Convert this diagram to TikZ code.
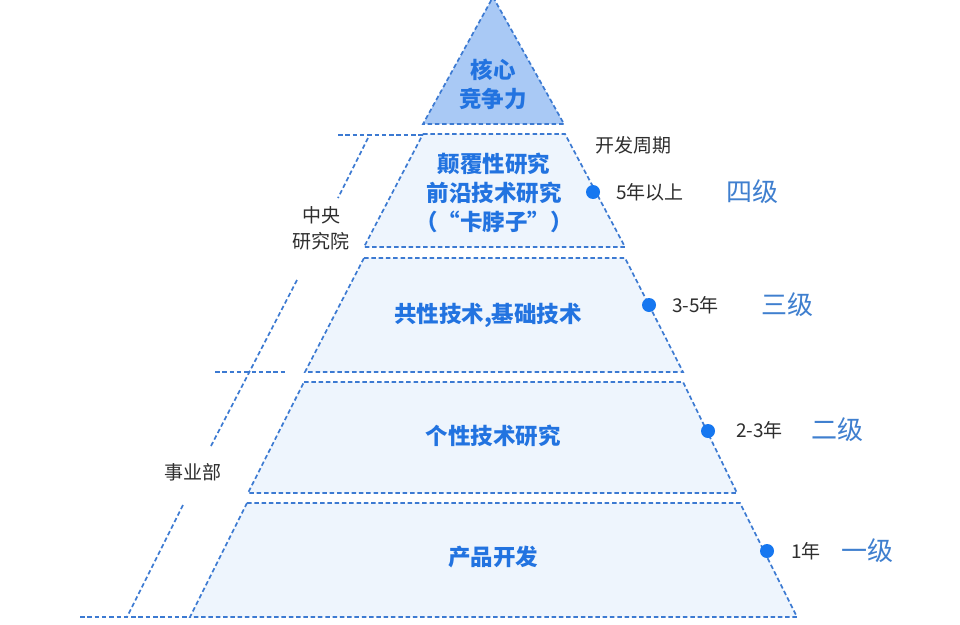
\documentclass[tikz,border=0pt]{standalone}
\usepackage{fontspec}
\setmainfont{Noto Sans CJK SC}
\definecolor{edgeblue}{HTML}{3C7AD2}
\definecolor{apexfill}{HTML}{A9C9F5}
\definecolor{layerfill}{HTML}{EEF5FD}
\definecolor{innerblue}{HTML}{2273E0}
\definecolor{levelblue}{HTML}{3F7FCF}
\definecolor{dotblue}{HTML}{1677F0}
\definecolor{graytext}{HTML}{2E2E2E}
\begin{document}
\begin{tikzpicture}[x=1pt,y=-1pt,
  dashline/.style={draw=edgeblue, line width=1.7pt, dash pattern=on 4.5pt off 2.8pt},
  apexstyle/.style={dashline, fill=apexfill},
  layerstyle/.style={dashline, fill=layerfill},
  inner/.style={text=innerblue, font=\fontsize{22.5}{29}\selectfont\bfseries, align=center, inner sep=0pt},
  side/.style={text=graytext, font=\fontsize{19}{26}\selectfont, align=center, inner sep=0pt},
  period/.style={text=graytext, font=\fontsize{19}{24}\selectfont, anchor=west, inner sep=0pt},
  level/.style={text=levelblue, font=\fontsize{26}{30}\selectfont, anchor=west, inner sep=0pt},
  dot/.style={circle, fill=dotblue, minimum size=14pt, inner sep=0pt}]
\useasboundingbox (0,0) rectangle (960,624);
\fill[white] (0,0) rectangle (960,624);

% pyramid layers
\filldraw[apexstyle] (493,-3) -- (564,124) -- (423,124) -- cycle;
\filldraw[layerstyle] (423,134) -- (565,134) -- (625,247) -- (364,247) -- cycle;
\filldraw[layerstyle] (364,258) -- (625,258) -- (683,372) -- (305,372) -- cycle;
\filldraw[layerstyle] (304,382) -- (683,382) -- (737,493) -- (248,493) -- cycle;
\filldraw[layerstyle] (247,503) -- (740,503) -- (797,617) -- (190,617) -- cycle;

% left brackets
\draw[dashline] (338,135) -- (423,135);
\draw[dashline] (215,372) -- (285,372);
\draw[dashline] (80,617) -- (190,617);
\draw[dashline] (368,138) -- (338,198);
\draw[dashline] (297,280) -- (211,446);
\draw[dashline] (183,505) -- (127,617);

% inner texts
\node[inner] (core) at (493,84) {核心\\竞争力};
\node[inner] (l4) at (494,193) {颠覆性研究\\前沿技术研究\\（“卡脖子”）};
\node[inner] (l3) at (488,315) {共性技术,基础技术};
\node[inner] (l2) at (493,436) {个性技术研究};
\node[inner] (l1) at (493,557) {产品开发};

% left labels
\node[side] (central) at (321,228) {中央\\研究院};
\node[side] (bu) at (193,472) {事业部};

% right side
\node[side] (cycle) at (633,145) {开发周期};
\node[dot] (d4) at (593,192) {};
\node[dot] (d3) at (649,305) {};
\node[dot] (d2) at (708,431) {};
\node[dot] (d1) at (767,551) {};
\node[period] (p4) at (616,192) {5年以上};
\node[period] (p3) at (672,305) {3-5年};
\node[period] (p2) at (736,430) {2-3年};
\node[period] (p1) at (791,551) {1年};
\node[level] (g4) at (726,192) {四级};
\node[level] (g3) at (761,305) {三级};
\node[level] (g2) at (811,430) {二级};
\node[level] (g1) at (841,551) {一级};
\end{tikzpicture}
\end{document}
